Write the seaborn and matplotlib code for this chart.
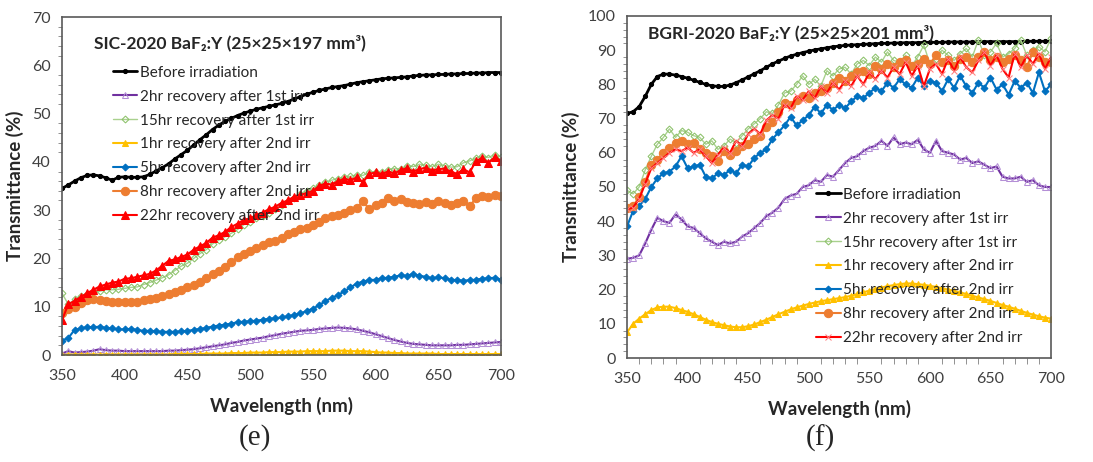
import matplotlib
matplotlib.use('Agg')
import matplotlib.pyplot as plt
from matplotlib.ticker import MultipleLocator
import seaborn as sns

sns.set_style('white')
plt.rcParams['font.family'] = ['Lato', 'DejaVu Sans']

# wavelength grid (nm)
wavelength = list(range(350, 701, 5))

labels = ['Before irradiation', '2hr recovery after 1st irr', '15hr recovery after 1st irr',
          '1hr recovery after 2nd irr', '5hr recovery after 2nd irr', '8hr recovery after 2nd irr',
          '22hr recovery after 2nd irr']

# ---- (e) SIC-2020 ----
e_before = [34.5, 35.2, 36.0, 36.7, 37.2, 37.3, 37.1, 36.7, 36.2, 36.8,
            36.9, 36.8, 36.8, 36.9, 37.4, 38.1, 38.8, 39.6, 40.6, 41.5,
            42.4, 43.5, 44.6, 45.6, 46.7, 47.6, 48.4, 49.0, 49.6, 50.1,
            50.5, 50.9, 51.2, 51.5, 51.8, 52.1, 52.5, 53.0, 53.5, 54.0,
            54.4, 54.8, 55.1, 55.4, 55.6, 55.8, 56.1, 56.4, 56.6, 56.8,
            57.0, 57.2, 57.3, 57.4, 57.5, 57.6, 57.8, 57.9, 58.0, 58.0,
            58.1, 58.1, 58.2, 58.2, 58.3, 58.3, 58.4, 58.4, 58.5, 58.5,
            58.5]
e_2hr = [0.3, 0.8, 0.5, 0.6, 0.7, 0.9, 1.2, 1.0, 0.9, 0.9,
         0.8, 0.8, 0.8, 0.8, 0.8, 0.8, 0.8, 0.9, 0.9, 1.0,
         1.1, 1.2, 1.4, 1.6, 1.8, 2.0, 2.2, 2.5, 2.7, 3.0,
         3.2, 3.4, 3.6, 3.9, 4.1, 4.4, 4.6, 4.8, 5.0, 5.1,
         5.2, 5.4, 5.5, 5.6, 5.7, 5.6, 5.5, 5.3, 5.0, 4.7,
         4.3, 3.9, 3.5, 3.1, 2.8, 2.5, 2.3, 2.2, 2.1, 2.0,
         2.0, 2.0, 2.0, 2.1, 2.1, 2.2, 2.3, 2.4, 2.5, 2.6,
         2.7]
e_15hr = [12.8, 10.5, 11.5, 12.3, 12.6, 13.0, 13.2, 13.5, 13.5, 13.6,
          13.8, 14.0, 14.1, 14.6, 15.0, 15.5, 16.0, 16.6, 17.5, 18.4,
          19.0, 20.0, 21.0, 21.8, 23.0, 23.8, 24.5, 25.2, 26.0, 27.0,
          27.5, 28.3, 28.8, 29.5, 30.3, 31.0, 31.8, 32.6, 33.4, 34.0,
          34.5, 35.2, 35.8, 36.2, 36.5, 36.8, 37.0, 37.3, 37.2, 37.8,
          38.0, 37.8, 38.4, 38.6, 38.5, 39.2, 39.0, 39.5, 39.3, 39.0,
          39.5, 39.2, 38.9, 39.0, 39.8, 40.2, 40.8, 41.2, 40.9, 41.5,
          41.0]
e_1hr = [0.0, 0.1, 0.1, 0.1, 0.1, 0.1, 0.1, 0.1, 0.1, 0.1,
         0.1, 0.1, 0.1, 0.1, 0.1, 0.1, 0.1, 0.1, 0.2, 0.2,
         0.2, 0.2, 0.2, 0.3, 0.3, 0.3, 0.3, 0.4, 0.4, 0.4,
         0.5, 0.5, 0.5, 0.6, 0.6, 0.6, 0.7, 0.7, 0.7, 0.8,
         0.8, 0.8, 0.8, 0.9, 0.9, 0.9, 0.8, 0.8, 0.8, 0.7,
         0.6, 0.5, 0.5, 0.4, 0.4, 0.3, 0.3, 0.3, 0.3, 0.3,
         0.2, 0.2, 0.2, 0.2, 0.2, 0.2, 0.2, 0.2, 0.2, 0.2,
         0.2]
e_5hr = [3.0, 3.5, 5.2, 5.5, 5.8, 5.7, 5.9, 5.6, 5.5, 5.3,
         5.3, 5.4, 5.2, 5.0, 5.0, 4.9, 4.8, 4.8, 4.8, 4.9,
         5.0, 5.2, 5.4, 5.6, 5.9, 6.1, 6.3, 6.5, 6.8, 6.9,
         7.0, 7.1, 7.3, 7.5, 7.6, 7.8, 8.0, 8.3, 8.6, 9.1,
         9.6, 10.3, 11.2, 11.8, 12.4, 13.2, 14.0, 14.8, 15.2, 15.5,
         15.6, 15.9, 16.0, 16.2, 16.5, 16.4, 16.8, 16.4, 16.2, 15.9,
         16.1, 15.9, 15.6, 15.5, 15.4, 15.5, 15.6, 15.8, 15.9, 16.0,
         15.6]
e_8hr = [8.8, 9.5, 10.0, 10.8, 11.3, 11.5, 11.4, 11.2, 11.0, 11.0,
         11.0, 10.9, 11.0, 11.3, 11.5, 11.8, 12.2, 12.6, 13.0, 13.5,
         14.0, 14.6, 15.2, 16.0, 16.8, 17.4, 18.3, 19.2, 20.2, 21.0,
         21.6, 22.2, 22.8, 23.3, 23.6, 24.3, 25.0, 25.5, 26.0, 26.3,
         27.0, 27.5, 28.3, 28.8, 29.0, 29.5, 30.0, 30.5, 31.8, 30.2,
         31.0, 31.5, 32.5, 31.8, 32.3, 31.7, 31.5, 31.3, 31.6, 31.2,
         31.8, 31.4, 31.0, 31.5, 31.8, 30.8, 32.5, 33.0, 32.8, 33.2,
         33.0]
e_22hr = [7.2, 10.5, 11.2, 12.0, 12.8, 13.5, 14.2, 14.6, 15.0, 15.2,
          15.8, 15.9, 16.2, 16.5, 16.8, 17.5, 18.5, 19.5, 19.8, 20.3,
          20.8, 21.8, 22.5, 23.2, 24.3, 24.8, 25.5, 26.5, 27.2, 28.0,
          28.3, 29.0, 29.5, 30.2, 30.7, 31.5, 32.0, 32.8, 33.2, 33.5,
          34.0, 35.0, 35.5, 35.3, 36.0, 36.5, 36.2, 36.8, 35.8, 37.5,
          37.8, 37.5, 38.0, 37.6, 38.3, 38.7, 38.0, 38.5, 38.8, 38.2,
          38.5, 38.6, 38.0, 37.5, 38.5, 37.8, 40.2, 40.8, 39.8, 41.0,
          40.2]

# ---- (f) BGRI-2020 ----
f_before = [71.5, 72.0, 73.5, 76.5, 80.0, 82.3, 83.0, 83.0, 82.7, 82.3,
            81.8, 81.2, 80.6, 80.0, 79.6, 79.4, 79.4, 79.8, 80.5, 81.3,
            82.2, 83.1, 84.0, 85.0, 86.0, 86.8, 87.6, 88.3, 88.8, 89.3,
            89.7, 90.1, 90.4, 90.7, 91.0, 91.2, 91.4, 91.5, 91.6, 91.7,
            91.8, 91.9, 92.0, 92.0, 92.1, 92.1, 92.2, 92.2, 92.2, 92.3,
            92.3, 92.3, 92.3, 92.4, 92.4, 92.4, 92.4, 92.4, 92.5, 92.5,
            92.5, 92.5, 92.5, 92.5, 92.5, 92.5, 92.6, 92.6, 92.6, 92.6,
            92.6]
f_2hr = [29.0, 29.3, 30.0, 33.5, 37.5, 41.0, 40.0, 39.5, 42.0, 40.5,
         38.5, 38.0, 36.5, 35.0, 34.0, 33.0, 34.0, 33.5, 34.0, 35.5,
         36.5, 38.0, 39.5, 41.5, 42.5, 44.0, 46.5, 47.5, 48.0, 50.0,
         50.5, 52.0, 51.5, 53.5, 53.0, 55.0, 57.0, 58.5, 59.0, 60.5,
         61.5, 62.0, 63.5, 62.0, 64.5, 62.5, 63.0, 62.5, 63.8, 61.0,
         60.0, 63.5, 60.5, 60.0, 59.5, 58.0, 58.5, 57.0, 57.5, 56.5,
         55.5, 56.0, 53.0, 52.5, 52.5, 53.0, 51.5, 52.0, 50.5, 50.0,
         50.0]
f_15hr = [49.0, 48.0, 50.0, 55.0, 59.0, 62.5, 64.5, 67.0, 64.5, 66.5,
          66.0, 65.0, 64.5, 62.5, 63.5, 61.0, 62.0, 64.0, 63.0, 65.0,
          67.0, 68.5, 70.0, 72.0, 71.5, 74.0, 77.5, 78.0, 80.0, 82.5,
          80.0, 81.5, 79.5, 84.0, 82.5, 84.5, 85.0, 83.0, 86.0, 87.0,
          85.5, 88.0, 86.5, 89.5, 87.0, 86.5, 88.5, 85.5, 88.0, 91.5,
          86.0, 87.5, 90.0, 88.5, 87.0, 89.0, 90.5, 88.0, 93.0, 88.5,
          89.5, 92.0, 88.0, 89.0, 90.5, 93.0, 88.5, 90.0, 91.0, 89.5,
          93.5]
f_1hr = [7.5, 10.0, 11.5, 12.8, 14.0, 14.8, 15.0, 15.0, 14.6, 14.0,
         13.5, 12.8, 12.0, 11.2, 10.5, 10.0, 9.6, 9.2, 9.0, 9.0,
         9.3, 9.8, 10.5, 11.2, 12.0, 12.8, 13.5, 14.2, 14.8, 15.3,
         15.8, 16.2, 16.6, 16.9, 17.2, 17.5, 17.8, 18.2, 18.7, 19.2,
         19.7, 20.2, 20.6, 21.0, 21.3, 21.6, 21.8, 21.8, 21.6, 21.4,
         21.1, 20.8, 20.4, 20.0, 19.6, 19.2, 18.7, 18.2, 17.7, 17.2,
         16.7, 16.1, 15.5, 15.0, 14.4, 13.8, 13.2, 12.7, 12.2, 11.8,
         11.5]
f_5hr = [38.5, 43.0, 44.5, 46.5, 50.0, 52.5, 54.0, 54.5, 56.0, 59.0,
         55.5, 56.0, 56.5, 53.0, 52.5, 54.0, 53.5, 55.0, 54.0, 56.5,
         56.0, 58.5, 60.0, 61.0, 64.0, 66.0, 68.0, 70.5, 68.0, 69.5,
         71.0, 73.5, 71.5, 74.0, 72.5, 74.0, 73.0, 75.0, 76.5, 76.0,
         77.5, 79.0, 78.0, 80.5, 79.0, 81.5, 80.0, 79.0, 82.0, 79.5,
         81.0, 80.5, 78.0, 81.5, 79.0, 82.5, 79.5, 77.5, 80.5, 79.0,
         82.0, 78.5, 80.0, 77.0, 81.0, 79.0, 80.5, 77.5, 83.5, 78.0,
         80.0]
f_8hr = [44.0, 44.5, 47.0, 51.5, 56.5, 58.0, 60.0, 61.5, 63.0, 63.5,
         62.5, 63.0, 61.0, 60.0, 59.0, 57.5, 60.5, 59.5, 60.5, 62.0,
         62.5, 64.0, 65.0, 67.5, 69.0, 72.0, 74.5, 74.0, 75.5, 76.5,
         76.0, 77.5, 78.0, 79.0, 80.5, 82.0, 81.0, 82.5, 83.5, 84.0,
         83.0, 85.5, 84.5, 86.0, 85.0, 86.5, 87.0, 85.5, 86.0, 87.5,
         86.0, 88.5, 86.5, 87.0, 85.5, 87.5, 88.0, 86.5, 88.0, 89.5,
         87.0, 88.0, 86.5, 87.5, 88.5, 87.0, 85.0, 89.5, 88.0, 86.5,
         86.5]
f_22hr = [43.5, 44.0, 46.5, 51.0, 55.5, 57.0, 58.5, 60.0, 61.0, 60.5,
          61.5, 60.0, 61.0, 59.0, 57.0, 59.5, 61.5, 60.0, 63.5, 62.0,
          65.5, 67.0, 65.5, 69.5, 71.0, 70.0, 74.0, 73.0, 76.5, 75.5,
          78.0, 76.0, 79.5, 77.5, 80.5, 78.5, 81.0, 79.5, 82.5, 80.0,
          83.5, 81.5, 84.0, 82.0, 85.0, 83.0, 86.5, 82.5, 85.5, 79.5,
          84.5, 86.0, 83.0, 87.5, 84.0, 88.0, 85.0, 83.5, 87.0, 89.5,
          85.5, 88.5, 84.5, 82.0, 89.0, 85.0, 88.5, 86.0, 89.0, 84.5,
          88.0]

e_series = [e_before, e_2hr, e_15hr, e_1hr, e_5hr, e_8hr, e_22hr]
f_series = [f_before, f_2hr, f_15hr, f_1hr, f_5hr, f_8hr, f_22hr]

# line / marker style for each series (Excel-like)
styles = [
    dict(color='black', marker='o', markersize=3, markerfacecolor='black', markeredgecolor='black', linewidth=2),
    dict(color='#7030A0', marker='^', markersize=4, markerfacecolor='none', markeredgecolor='#B48FD6', linewidth=1.5),
    dict(color='#A9D18E', marker='D', markersize=3.5, markerfacecolor='none', markeredgecolor='#8CC16A', linewidth=1),
    dict(color='#FFC000', marker='^', markersize=5, markerfacecolor='#FFC000', markeredgecolor='#FFC000', linewidth=1.5),
    dict(color='#0070C0', marker='D', markersize=3.5, markerfacecolor='#0070C0', markeredgecolor='#0070C0', linewidth=1.5),
    dict(color='#ED7D31', marker='o', markersize=6, markerfacecolor='#ED7D31', markeredgecolor='#ED7D31', linewidth=1.5),
]
red_e = dict(color='#FF0000', marker='^', markersize=6, markerfacecolor='#FF0000', markeredgecolor='#FF0000', linewidth=1.5)
red_f = dict(color='#FF0000', marker='x', markersize=4, markerfacecolor='#FF8080', markeredgecolor='#FF8080', linewidth=1.5)

fig = plt.figure(figsize=(10.93, 4.62), dpi=100)
ax1 = fig.add_axes([0.0567, 0.2316, 0.4017, 0.7316])
ax2 = fig.add_axes([0.5737, 0.2251, 0.3879, 0.7403])


def draw(ax, series, red_style, ymax, title, title_xy, leg_xy):
    for vals, lab, st in zip(series, labels, styles + [red_style]):
        sns.lineplot(x=wavelength, y=vals, ax=ax, label=lab, **st)
    ax.set_xlim(350, 700)
    ax.set_ylim(0, ymax)
    ax.set_xticks(range(350, 701, 50))
    ax.yaxis.set_major_locator(MultipleLocator(10))
    ax.yaxis.set_minor_locator(MultipleLocator(2))
    ax.tick_params(axis='both', which='major', length=0, labelsize=11.5, labelcolor='#404040')
    ax.tick_params(axis='x', pad=10)
    ax.tick_params(axis='y', pad=8)
    ax.tick_params(axis='y', which='minor', length=3, width=0.6, color='#808080', direction='out', left=True)
    for s in ax.spines.values():
        s.set_color('#595959')
        s.set_linewidth(1.2)
    ax.set_xlabel('Wavelength (nm)', fontsize=13.5, fontweight='bold', labelpad=10)
    ax.set_ylabel('Transmittance (%)', fontsize=13.5, fontweight='bold', labelpad=6)
    ax.text(title_xy[0], title_xy[1], title, transform=ax.transAxes, fontsize=12.5,
            fontweight='bold', va='center', ha='left')
    ax.legend(loc='upper left', bbox_to_anchor=leg_xy, frameon=False, fontsize=11,
              handlelength=1.6, handletextpad=0.15, labelspacing=0.65, borderpad=0,
              borderaxespad=0)


draw(ax1, e_series, red_e, 70, 'SIC-2020 BaF₂:Y (25×25×197 mm³)', (0.073, 0.922), (0.116, 0.856))
draw(ax2, f_series, red_f, 100, 'BGRI-2020 BaF₂:Y (25×25×201 mm³)', (0.05, 0.95), (0.446, 0.498))
ax2.xaxis.set_minor_locator(MultipleLocator(10))
ax2.tick_params(axis='x', which='minor', length=4, width=0.6, color='#808080', direction='out', bottom=True)

fig.text(0.233, 0.052, '(e)', fontsize=21, family='Liberation Serif', ha='center', va='center')
fig.text(0.751, 0.052, '(f)', fontsize=21, family='Liberation Serif', ha='center', va='center')

fig.savefig('out.png', dpi=100)
